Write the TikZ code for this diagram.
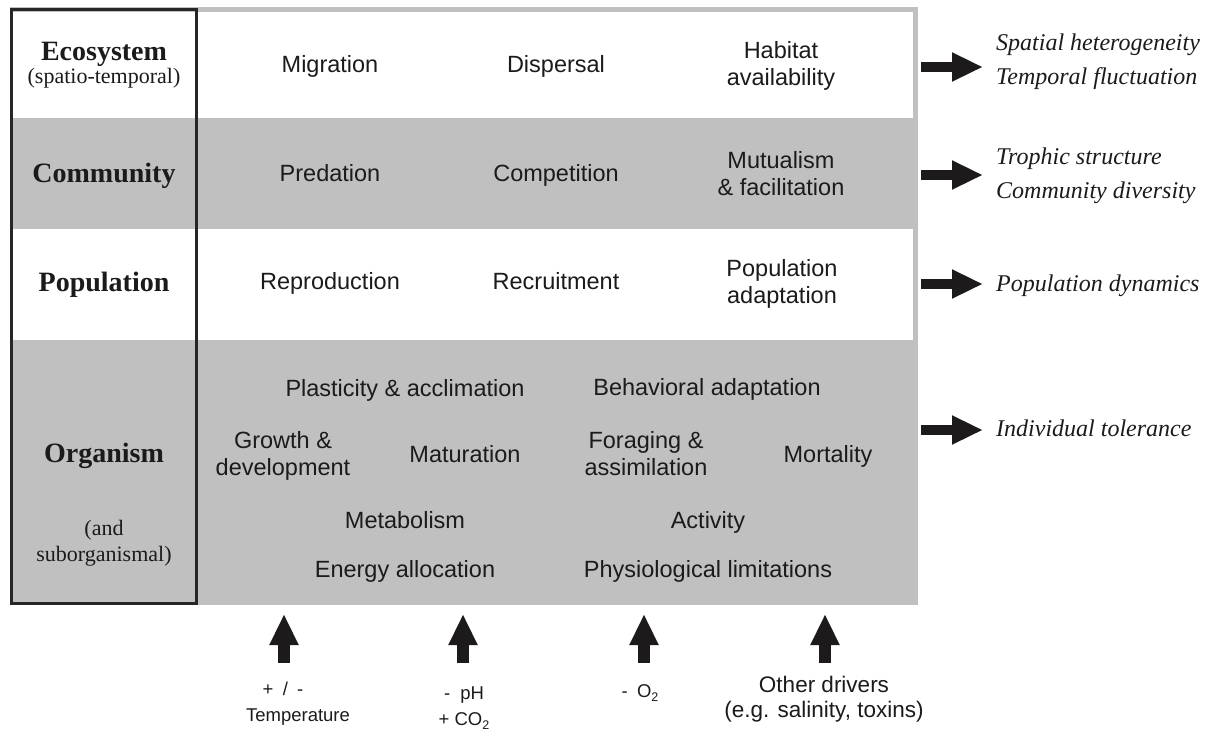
\documentclass[tikz,border=0pt]{standalone}
\usepackage{fontspec}
\setmainfont{Liberation Serif}
\setsansfont{Liberation Sans}
\usetikzlibrary{arrows.meta}
\definecolor{band}{RGB}{192,192,192}
\definecolor{ink}{RGB}{28,26,26}
\definecolor{framecol}{RGB}{38,38,38}
\newcommand\mainsize{\fontsize{23.5pt}{27pt}\selectfont}
\newcommand\lowsub[1]{\raisebox{-0.45ex}{\fontsize{12.5pt}{12.5pt}\selectfont #1}}
\begin{document}
\begin{tikzpicture}[x=1pt,y=-1pt,
  proc/.style={font=\sffamily\mainsize, text=ink, inner sep=0pt, align=center, anchor=base},
  level/.style={font=\bfseries\fontsize{28pt}{30pt}\selectfont, text=ink, inner sep=0pt, align=center, anchor=base},
  levelsub/.style={font=\fontsize{22pt}{26pt}\selectfont, text=ink, inner sep=0pt, align=center, anchor=base},
  outcome/.style={font=\itshape\fontsize{24pt}{34pt}\selectfont, text=ink, inner sep=0pt, align=left, anchor=base west},
  driver/.style={font=\sffamily\fontsize{18.5pt}{26pt}\selectfont, text=ink, inner sep=0pt, align=center, anchor=base},
  outarrow/.style={draw=ink, line width=10pt, -{Triangle[width=27pt,length=31pt]}},
  inarrow/.style={draw=ink, line width=11.5pt, -{Triangle[width=27pt,length=31pt]}},
]
\path[use as bounding box] (0,0) rectangle (1216,734);
% bands
\fill[band] (10,7) rectangle (918,605);
\fill[white] (13,12) rectangle (913,118);
\fill[white] (13,229) rectangle (913,340);
% level column frame
\draw[framecol, line width=2.6pt] (11.5,9.5) rectangle (196.5,603.5);

% level labels (multi-line nodes: base = baseline of last line)
\node[level, font=\fontsize{22pt}{21pt}\selectfont] (eco) at (104,83)
  {{\bfseries\fontsize{28pt}{30pt}\selectfont Ecosystem}\\(spatio-temporal)};
\node[level] (com) at (104,182) {Community};
\node[level] (pop) at (104,291) {Population};
\node[level] (org) at (104,462) {Organism};
\node[levelsub] (orgsub) at (104,561) {(and\\suborganismal)};

% processes
\node[proc] (mig) at (330,72) {Migration};
\node[proc] (dis) at (556,72) {Dispersal};
\node[proc] (hab) at (781,85) {Habitat\\availability};
\node[proc] (pre) at (330,181) {Predation};
\node[proc] (cmp) at (556,181) {Competition};
\node[proc] (mut) at (781,195) {Mutualism\\\& facilitation};
\node[proc] (rep) at (330,289) {Reproduction};
\node[proc] (rec) at (556,289) {Recruitment};
\node[proc] (pad) at (782,303) {Population\\adaptation};
\node[proc] (pla) at (405,396) {Plasticity \& acclimation};
\node[proc] (beh) at (707,395) {Behavioral adaptation};
\node[proc] (gro) at (283,475) {Growth \&\\development};
\node[proc] (mat) at (465,462) {Maturation};
\node[proc] (for) at (646,475) {Foraging \&\\assimilation};
\node[proc] (mor) at (828,462) {Mortality};
\node[proc] (met) at (405,528) {Metabolism};
\node[proc] (act) at (708,528) {Activity};
\node[proc] (ene) at (405,577) {Energy allocation};
\node[proc] (phy) at (708,577) {Physiological limitations};

% outcomes
\node[outcome] (out1) at (996,84) {Spatial heterogeneity\\Temporal fluctuation};
\node[outcome] (out2) at (996,198) {Trophic structure\\Community diversity};
\node[outcome] (out3) at (996,291) {Population dynamics};
\node[outcome] (out4) at (996,436) {Individual tolerance};

\coordinate (o1s) at (921,67);  \coordinate (o1e) at (983,67);
\coordinate (o2s) at (921,175); \coordinate (o2e) at (983,175);
\coordinate (o3s) at (921,284); \coordinate (o3e) at (983,284);
\coordinate (o4s) at (921,430); \coordinate (o4e) at (983,430);
\draw[outarrow] (o1s) -- (o1e);
\draw[outarrow] (o2s) -- (o2e);
\draw[outarrow] (o3s) -- (o3e);
\draw[outarrow] (o4s) -- (o4e);

% drivers
\node[driver] (drv1) at (298,721) {\hspace*{-30pt}+\hspace{0.5em}/\hspace{0.5em}-\\Temperature};
\node[driver] (drv2) at (464,725) {-\hspace{0.55em}pH\\+ CO\lowsub{2}};
\node[driver] (drv3) at (640,697) {-\hspace{0.5em}O\lowsub{2}};
\node[driver, font=\sffamily\fontsize{22.5pt}{25pt}\selectfont] (drv4) at (824,717) {Other drivers\\(e.g. salinity, toxins)};

\coordinate (d1b) at (284,663); \coordinate (d1t) at (284,614);
\coordinate (d2b) at (463,663); \coordinate (d2t) at (463,614);
\coordinate (d3b) at (644,663); \coordinate (d3t) at (644,614);
\coordinate (d4b) at (825,663); \coordinate (d4t) at (825,614);
\draw[inarrow] (d1b) -- (d1t);
\draw[inarrow] (d2b) -- (d2t);
\draw[inarrow] (d3b) -- (d3t);
\draw[inarrow] (d4b) -- (d4t);
\end{tikzpicture}
\end{document}
